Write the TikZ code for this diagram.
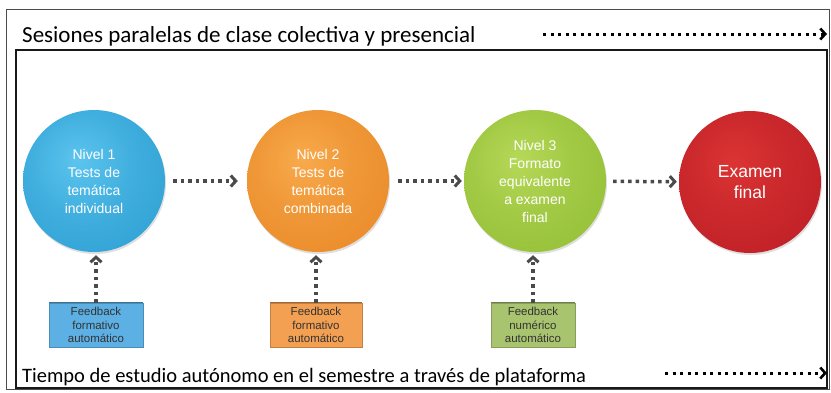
\documentclass[tikz,border=0pt]{standalone}
\usepackage{fontspec}
\setmainfont{Carlito}
\newfontfamily\arialf{Liberation Sans}
\usetikzlibrary{arrows.meta,shadows}

\definecolor{bluein}{HTML}{5CC4EE}
\definecolor{blueout}{HTML}{1F95CB}
\definecolor{orangein}{HTML}{F8AA4C}
\definecolor{orangeout}{HTML}{E5801E}
\definecolor{greenin}{HTML}{B6D858}
\definecolor{greenout}{HTML}{8AB82D}
\definecolor{redin}{HTML}{DC3434}
\definecolor{redout}{HTML}{B51A22}
\definecolor{fbblue}{HTML}{5DB0E3}
\definecolor{fborange}{HTML}{F4A052}
\definecolor{fbgreen}{HTML}{A9C46F}
\definecolor{arrgray}{HTML}{4A4A4A}
\definecolor{fbtext}{HTML}{333333}

\pgfdeclareradialshading{blueglow}{\pgfpoint{-6bp}{8bp}}{color(0bp)=(bluein); color(18bp)=(bluein!55!blueout); color(52bp)=(blueout); color(70bp)=(blueout)}
\pgfdeclareradialshading{orangeglow}{\pgfpoint{-6bp}{8bp}}{color(0bp)=(orangein); color(18bp)=(orangein!55!orangeout); color(52bp)=(orangeout); color(70bp)=(orangeout)}
\pgfdeclareradialshading{greenglow}{\pgfpoint{-6bp}{8bp}}{color(0bp)=(greenin); color(18bp)=(greenin!55!greenout); color(52bp)=(greenout); color(70bp)=(greenout)}
\pgfdeclareradialshading{redglow}{\pgfpoint{-6bp}{8bp}}{color(0bp)=(redin); color(18bp)=(redin!55!redout); color(52bp)=(redout); color(70bp)=(redout)}

\begin{document}
\begin{tikzpicture}[x=1pt,y=-1pt,
  lvl/.style={circle, minimum size=142pt, inner sep=0pt, align=center,
    text=white, font=\arialf\fontsize{14}{18}\selectfont, shading=#1,
    drop shadow={opacity=0.25, shadow xshift=1pt, shadow yshift=-2pt}},
  fb/.style={minimum height=44pt, inner sep=0pt, align=center, text=fbtext,
    font=\arialf\fontsize{11.5}{13.5}\selectfont, fill=#1, draw=#1!80!black, line width=0.5pt},
  fbtop/.style={draw=#1!65!black, line width=1.2pt},
  flow/.style={draw=arrgray, line width=3.5pt, dash pattern=on 3.5pt off 4pt,
    -{Straight Barb[length=5pt, width=11pt, line width=3pt]}},
  timearrow/.style={draw=black, line width=3pt, dash pattern=on 3pt off 4.5pt,
    -{Straight Barb[length=5pt, width=11pt, line width=2.6pt]}},
  bigtext/.style={anchor=base west, inner sep=0pt, text=black}
]
\useasboundingbox (0,0) rectangle (831,392);
\fill[white] (0,0) rectangle (831,392);

% frames
\draw[line width=0.8pt, black!70] (6,9.5) rectangle (829.5,389);
\draw[line width=2pt, black!90] (15.5,50) rectangle (827,388);

% headings
\node[bigtext, font=\fontsize{23}{26}\selectfont] (top) at (22,42) {Sesiones paralelas de clase colectiva y presencial};
\node[bigtext, font=\fontsize{20.5}{24}\selectfont] (bot) at (22,382) {Tiempo de estudio autónomo en el semestre a través de plataforma};

\coordinate (ts) at (543,34);
\coordinate (te) at (827,34);
\draw[timearrow] (ts) -- (te);
\coordinate (bs) at (665,373);
\coordinate (be) at (827,373);
\draw[timearrow] (bs) -- (be);

% circles
\node[lvl=blueglow] (n1) at (94,181) {Nivel 1\\Tests de\\temática\\individual};
\node[lvl=orangeglow] (n2) at (318,181) {Nivel 2\\Tests de\\temática\\combinada};
\node[lvl=greenglow] (n3) at (535,181) {Nivel 3\\Formato\\equivalente\\a examen\\final};
\node[lvl=redglow, font=\arialf\fontsize{17.5}{21}\selectfont] (n4) at (750,182) {Examen\\final};

% flow arrows
\draw[flow, shorten <=8pt, shorten >=9pt] (n1) -- (n2);
\draw[flow, shorten <=9pt, shorten >=2pt] (n2) -- (n3);
\draw[flow, shorten <=7pt, shorten >=2pt] (n3) -- (n4);

% feedback boxes
\node[fb=fbblue, minimum width=94pt] (f1) at (96,325) {Feedback\\formativo\\automático};
\node[fb=fborange, minimum width=92pt] (f2) at (316,325) {Feedback\\formativo\\automático};
\node[fb=fbgreen, minimum width=84pt] (f3) at (533,325) {Feedback\\numérico\\automático};
\draw[fbtop=fbblue] (f1.north west) -- (f1.north east);
\draw[fbtop=fborange] (f2.north west) -- (f2.north east);
\draw[fbtop=fbgreen] (f3.north west) -- (f3.north east);

% feedback arrows
\draw[flow, shorten >=3pt] (f1.north) -- (f1.north |- n1.south);
\draw[flow, shorten >=3pt] (f2.north) -- (f2.north |- n2.south);
\draw[flow, shorten >=3pt] (f3.north) -- (f3.north |- n3.south);
\end{tikzpicture}
\end{document}
